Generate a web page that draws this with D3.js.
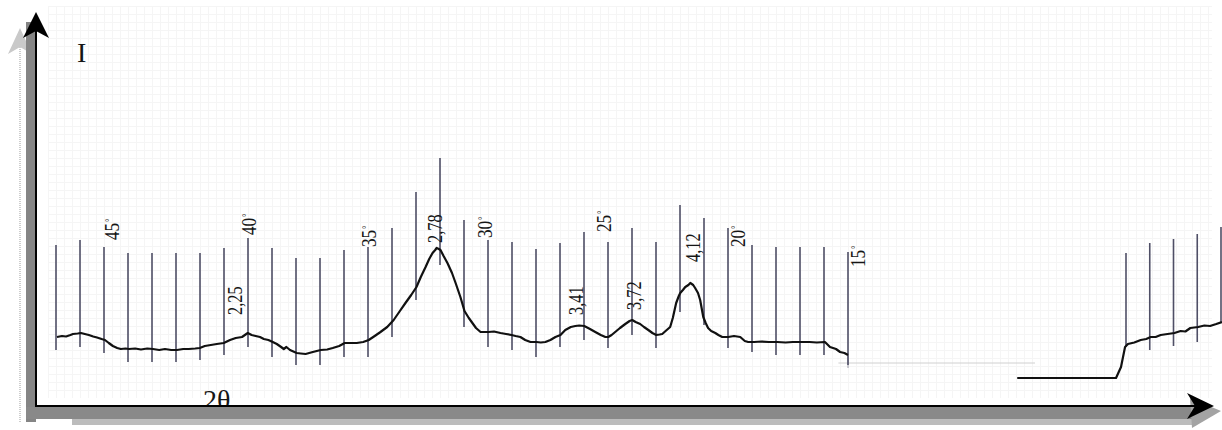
<!DOCTYPE html>
<html>
<head>
<meta charset="utf-8">
<script src="https://cdn.jsdelivr.net/npm/d3@7"></script>
<style>
  body { margin: 0; background: #fff; }
  text { font-family: "Liberation Serif", "DejaVu Serif", serif; fill: #151515; }
</style>
</head>
<body>
<script>
// main scan, 2theta in degrees, intensity in arbitrary units
var twoTheta = [47.96, 47.75, 47.58, 47.4, 47.29, 47.1, 46.96, 46.8, 46.63, 46.45, 46.29, 46.1, 45.96, 45.8, 45.63, 45.45,
    45.3, 45.1, 44.96, 44.7, 44.46, 44.2, 43.96, 43.7, 43.46, 43.2, 42.96, 42.7, 42.47, 42.2, 42.01, 41.8, 41.55, 41.3,
    41.01, 40.75, 40.51, 40.25, 40.01, 39.85, 39.68, 39.5, 39.34, 39.15, 38.97, 38.8, 38.62, 38.51, 38.4, 38.25, 37.97,
    37.8, 37.6, 37.3, 36.97, 36.7, 36.47, 36.2, 35.97, 35.7, 35.47, 35.2, 34.97, 34.72, 34.48, 34.2, 33.93, 33.7, 33.44,
    33.2, 32.98, 32.8, 32.6, 32.45, 32.31, 32.2, 32.14, 32.05, 31.98, 31.85, 31.69, 31.5, 31.35, 31.15, 30.98, 30.8,
    30.65, 30.5, 30.31, 30.15, 29.98, 29.75, 29.48, 29.25, 29.02, 28.85, 28.65, 28.45, 28.23, 27.98, 27.8, 27.61, 27.4,
    27.19, 26.98, 26.78, 26.55, 26.36, 26.2, 25.99, 25.75, 25.53, 25.3, 25.11, 24.99, 24.85, 24.7, 24.5, 24.28, 24.1,
    23.99, 23.85, 23.66, 23.5, 23.32, 23.15, 22.99, 22.85, 22.74, 22.6, 22.41, 22.3, 22.16, 22.05, 21.99, 21.88, 21.78,
    21.65, 21.57, 21.45, 21.37, 21.25, 21.16, 21.03, 20.93, 20.83, 20.7, 20.53, 20.4, 20.24, 20.1, 19.99, 19.75, 19.49,
    19.3, 19.16, 18.91, 18.6, 18.3, 17.95, 17.6, 17.3, 16.96, 16.6, 16.3, 15.96, 15.75, 15.5, 15.33, 15.15, 15.0];
var intensity = [17.2, 17.6, 17.4, 18, 18.4, 18.6, 18.8, 18.4, 18, 17.4, 17, 16.4, 16, 14.8, 13.6, 12.8,
    12.4, 12.6, 12.4, 12.6, 12.2, 12.6, 12.4, 12, 12.4, 12, 12, 12.4, 12.4, 12.6, 12.8, 13.6, 14, 14.4,
    14.8, 16, 16.8, 17.2, 18.8, 18, 17.6, 17.2, 16.4, 16, 15.2, 14.4, 13.2, 12.4, 13.2, 12, 10.8,
    10.6, 10.4, 11.2, 12, 12.2, 12.8, 13.6, 14.8, 14.8, 14.8, 15.2, 16, 17.6, 19.2, 21.2, 24, 27.2, 30.8,
    34, 37.2, 41.2, 45.2, 48.4, 50.8, 52, 52.8, 52.4, 52, 49.6, 46.8, 42.8, 38.8, 33.2, 27.6, 24.8,
    22.8, 20.8, 19.2, 19.2, 19.2, 19.4, 18.8, 18.4, 18, 17.6, 17.2, 16, 15.2, 15.2, 15, 15.2, 16,
    17.2, 18, 20, 21.2, 21.6, 21.8, 21.6, 20.4, 19.2, 18, 17.2, 17.2, 18, 19.2, 20.8, 22.4, 23.6,
    24, 23.2, 22.4, 21.2, 20, 18.8, 18, 18.2, 18.4, 19.6, 21.2, 24.8, 30.8, 33.6, 34.8, 36, 37.2,
    38, 38.8, 38, 36.8, 34.8, 32, 25.2, 22.8, 20.8, 19.6, 18.8, 18, 17.2, 17.2, 17.2, 17.6, 17.2,
    15.6, 15.2, 15.2, 15.4, 15.2, 15.2, 15, 15.2, 15.2, 15.2, 15, 15.2, 13.2, 12.4, 11.2, 10.8, 10];

// chart-paper division marks, one per degree
var tickDeg = [48, 47, 46, 45, 44, 43, 42, 41, 40, 39, 38, 37, 36, 35, 34, 33, 32,
    31, 30, 29, 28, 27, 26, 25, 24, 23, 22, 21, 20, 19, 18, 17, 16, 15];
var tickTop = [54, 56, 53.2, 50.8, 50.8, 50.8, 50.8, 52.8, 56.8, 52.8, 48.8, 48.8, 52, 53.2, 60.8, 75.2, 88.8,
    64, 56, 55.2, 52.4, 54.8, 59.2, 55.2, 60.8, 55.2, 70, 64.8, 60.8, 54, 53.2, 53.2, 53.2, 51.2];
var tickBottom = [12, 13.2, 10.8, 7.2, 7.2, 7.2, 8, 10, 13.2, 9.2, 6, 6, 9.2, 9.2, 17.2, 32, 46,
    21.2, 13.2, 12, 9.2, 13.2, 16, 12.8, 18, 12.8, 27.2, 22, 12.8, 11.2, 10, 10, 10, 6];

// angle labels
var angleText = ["45", "40", "35", "30", "25", "20", "15"];
var angleAt = [45.7, 40, 35, 30.15, 25.2, 19.63, 14.63];
var angleLevel = [56, 58, 53.2, 56.8, 59.2, 53.2, 45.2];

// d-spacing labels (Angstrom)
var dText = ["2,25", "2,78", "3,41", "3,72", "4,12"];
var dAt = [40.55, 32.25, 26.35, 23.95, 21.5];
var dLevel = [26, 54.8, 26, 28, 47.2];

// separate low-angle fragment at the right, in chart divisions
var fragPos = [-4.58, -2.5, -0.42, -0.21, -0.04, 0.08, 0.35, 0.62, 0.85, 1.04, 1.25, 1.46, 1.75, 2.04, 2.3, 2.5, 2.71, 3.04, 3.3, 3.54, 3.8, 4.04];
var fragInt = [0.8, 0.8, 0.8, 5.2, 13.2, 14.4, 15, 16, 16.4, 17.2, 17.2, 18, 18.4, 18.8, 19.6, 19.4, 20.8, 21.2, 21.8, 21.6, 22.4, 23.2];
var fragTickPos = [0, 1, 2, 3, 4];
var fragTickTop = [50.8, 54.8, 56.4, 58.4, 61.2];
var fragTickBottom = [13.2, 12, 13.6, 15.2, 22.8];

var width = 1222, height = 430;
var svg = d3.select("body").append("svg")
    .attr("width", width)
    .attr("height", height);

var x = d3.scaleLinear().domain([48, 15]).range([56, 848]);
var xFrag = d3.scaleLinear().domain([0, 4]).range([1126, 1221]);
var y = d3.scaleLinear().domain([0, 100]).range([380, 130]);

// faint graph paper
var grid = svg.append("g").attr("stroke", "#f5f5f5").attr("stroke-width", 1);
grid.selectAll("line.v").data(d3.range(48, 1212, 8)).enter().append("line")
    .attr("x1", function(d) { return d + 0.5; }).attr("x2", function(d) { return d + 0.5; })
    .attr("y1", 6).attr("y2", 398);
grid.selectAll("line.h").data(d3.range(6, 398, 8)).enter().append("line")
    .attr("x1", 48).attr("x2", 1212)
    .attr("y1", function(d) { return d + 0.5; }).attr("y2", function(d) { return d + 0.5; });

// x label sits behind the axis frame
svg.append("text")
    .attr("x", 203).attr("y", 409)
    .style("font-size", "28px")
    .text("2θ");

// shadow of the frame
svg.append("line")
    .attr("x1", 20).attr("x2", 20).attr("y1", 45).attr("y2", 423)
    .attr("stroke", "#bdbdbd").attr("stroke-width", 1.5).attr("stroke-dasharray", "1,1");
svg.append("path")
    .attr("d", "M20,28 L32,54 L20,47 L8,54 Z")
    .attr("fill", "#c9c9c9");
svg.append("rect").attr("x", 26).attr("y", 22).attr("width", 10).attr("height", 400).attr("fill", "#858585");
svg.append("rect").attr("x", 72).attr("y", 418).attr("width", 1120).attr("height", 7).attr("fill", "#bcbcbc");
svg.append("rect").attr("x", 26).attr("y", 407).attr("width", 1172).attr("height", 12).attr("fill", "#898989");
svg.append("path")
    .attr("d", "M1190,398 L1221,411 L1192,428 Z")
    .attr("fill", "#a3a3a3");

// axes
svg.append("line")
    .attr("x1", 36).attr("x2", 36).attr("y1", 30).attr("y2", 407)
    .attr("stroke", "#000").attr("stroke-width", 2);
svg.append("line")
    .attr("x1", 35).attr("x2", 1200).attr("y1", 406).attr("y2", 406)
    .attr("stroke", "#000").attr("stroke-width", 2);
svg.append("path")
    .attr("d", "M36,12 L49,38 L36,31 L23,38 Z")
    .attr("fill", "#000");
svg.append("path")
    .attr("d", "M1214,406 L1187,393 L1195,406 L1187,419 Z")
    .attr("fill", "#000");

svg.append("text")
    .attr("x", 77).attr("y", 62)
    .style("font-size", "28px")
    .text("I");

// faint pencil line near the end of the scan
svg.append("line")
    .attr("x1", x(15.4)).attr("x2", 1035).attr("y1", y(6.8)).attr("y2", y(6.8))
    .attr("stroke", "#d0d0d0").attr("stroke-width", 1);
svg.append("line")
    .attr("x1", x(15)).attr("x2", x(15)).attr("y1", y(10)).attr("y2", y(4.8))
    .attr("stroke", "#9a9aa8").attr("stroke-width", 1);

// division marks
var tickData = tickDeg.map(function(d, i) {
    return {deg: d, top: tickTop[i], bottom: tickBottom[i]};
});
svg.append("g").selectAll("line").data(tickData).enter().append("line")
    .attr("x1", function(d) { return x(d.deg); })
    .attr("x2", function(d) { return x(d.deg); })
    .attr("y1", function(d) { return y(d.top); })
    .attr("y2", function(d) { return y(d.bottom); })
    .attr("stroke", "#4f4f66")
    .attr("stroke-width", 1.6);

var fragTicks = fragTickPos.map(function(d, i) {
    return {pos: d, top: fragTickTop[i], bottom: fragTickBottom[i]};
});
svg.append("g").selectAll("line").data(fragTicks).enter().append("line")
    .attr("x1", function(d) { return xFrag(d.pos); })
    .attr("x2", function(d) { return xFrag(d.pos); })
    .attr("y1", function(d) { return y(d.top); })
    .attr("y2", function(d) { return y(d.bottom); })
    .attr("stroke", "#4f4f66")
    .attr("stroke-width", 1.6);

// traces
var scan = twoTheta.map(function(d, i) { return {deg: d, val: intensity[i]}; });
var line = d3.line()
    .x(function(d) { return x(d.deg); })
    .y(function(d) { return y(d.val); });
svg.append("path")
    .datum(scan)
    .attr("d", line)
    .attr("fill", "none")
    .attr("stroke", "#111")
    .attr("stroke-width", 2.2)
    .attr("stroke-linejoin", "round");

var frag = fragPos.map(function(d, i) { return {pos: d, val: fragInt[i]}; });
var fragLine = d3.line()
    .x(function(d) { return xFrag(d.pos); })
    .y(function(d) { return y(d.val); });
svg.append("path")
    .datum(frag)
    .attr("d", fragLine)
    .attr("fill", "none")
    .attr("stroke", "#111")
    .attr("stroke-width", 2.2)
    .attr("stroke-linejoin", "round");

// rotated labels
var angleLabels = svg.append("g").selectAll("g")
    .data(angleText.map(function(t, i) { return {text: t, at: angleAt[i], level: angleLevel[i]}; }))
    .enter().append("g")
    .attr("transform", function(d) {
        return "translate(" + x(d.at) + "," + y(d.level) + ") rotate(-90)";
    });
var angleTxt = angleLabels.append("text")
    .attr("transform", "scale(0.78,1)")
    .attr("dy", "0.36em")
    .style("font-size", "22px");
angleTxt.append("tspan").text(function(d) { return d.text; });
angleTxt.append("tspan")
    .attr("dx", 1)
    .attr("dy", "-0.55em")
    .style("font-size", "11px")
    .text("°");

svg.append("g").selectAll("g")
    .data(dText.map(function(t, i) { return {text: t, at: dAt[i], level: dLevel[i]}; }))
    .enter().append("g")
    .attr("transform", function(d) {
        return "translate(" + x(d.at) + "," + y(d.level) + ") rotate(-90)";
    })
    .append("text")
    .attr("transform", "scale(0.78,1)")
    .attr("dy", "0.36em")
    .style("font-size", "21px")
    .text(function(d) { return d.text; });
</script>
</body>
</html>
